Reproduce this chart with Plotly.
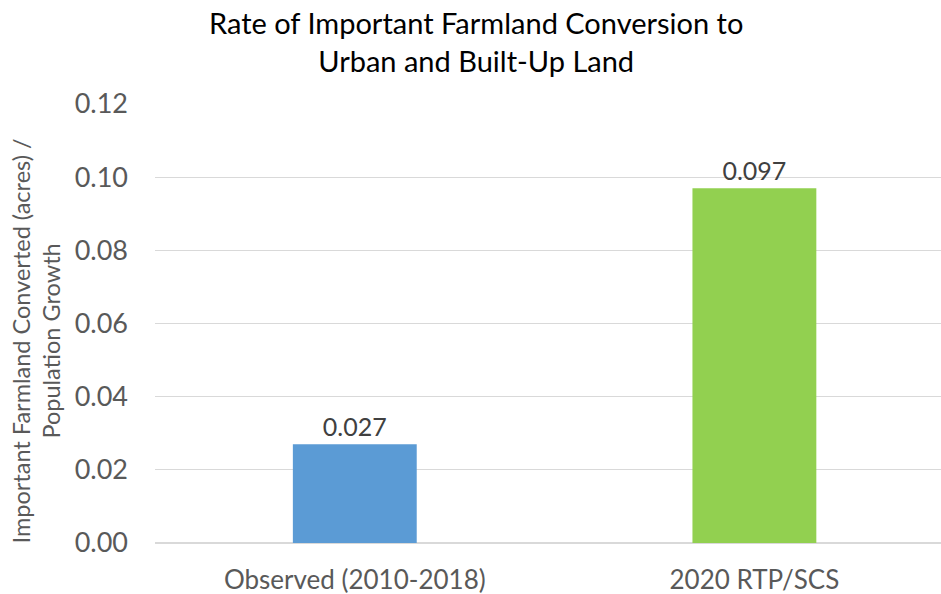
import plotly.graph_objects as go

categories = ["Observed (2010-2018)", "2020 RTP/SCS"]
values = [0.027, 0.097]
labels = ["0.027", "0.097"]
colors = ["#5B9BD5", "#92D050"]
ytick_vals = [0.0, 0.02, 0.04, 0.06, 0.08, 0.10, 0.12]
ytick_text = ["0.00", "0.02", "0.04", "0.06", "0.08", "0.10", "0.12"]
title_text = "Rate of Important Farmland Conversion to<br>Urban and Built-Up Land"
ytitle_text = "Important Farmland Converted (acres) /<br>Population Growth"

FONT = "Lato"
GRAY = "#595959"

fig = go.Figure()
fig.add_trace(go.Bar(
    x=[0, 1], y=values, width=0.31,
    marker=dict(color=colors, line=dict(width=0)),
    text=labels, textposition="outside", cliponaxis=False,
    textfont=dict(family=FONT, size=25, color="#404040"),
))

fig.update_layout(
    width=941, height=594,
    margin=dict(l=155, r=0, t=104, b=51),
    paper_bgcolor="white", plot_bgcolor="white",
    showlegend=False,
    xaxis=dict(
        range=[-0.5, 1.467], tickvals=[0, 1], ticktext=categories,
        showgrid=False, zeroline=False, showline=False, ticks="",
        ticklabelstandoff=19,
        tickfont=dict(family=FONT, size=26, color=GRAY),
    ),
    yaxis=dict(
        range=[0, 0.12], tickvals=ytick_vals, ticktext=ytick_text,
        showgrid=True, gridcolor="#d9d9d9", gridwidth=1,
        zeroline=True, zerolinecolor="#d9d9d9", zerolinewidth=1.5,
        showline=False, ticks="", ticklabelstandoff=26,
        tickfont=dict(family=FONT, size=27, color=GRAY),
    ),
    annotations=[
        dict(
            text=title_text,
            xref="paper", yref="paper", x=(476-155)/786, y=1,
            xanchor="center", yanchor="middle", yshift=104-41,
            showarrow=False,
            font=dict(family=FONT, size=29, color="#000000"),
        ),
        dict(
            text=ytitle_text,
            xref="paper", yref="paper", x=0, y=0.5,
            xanchor="center", yanchor="middle",
            xshift=-(155-36), yshift=-18, textangle=-90, showarrow=False,
            font=dict(family=FONT, size=23.5, color=GRAY),
        ),
    ],
)

fig.write_html("out.html")
